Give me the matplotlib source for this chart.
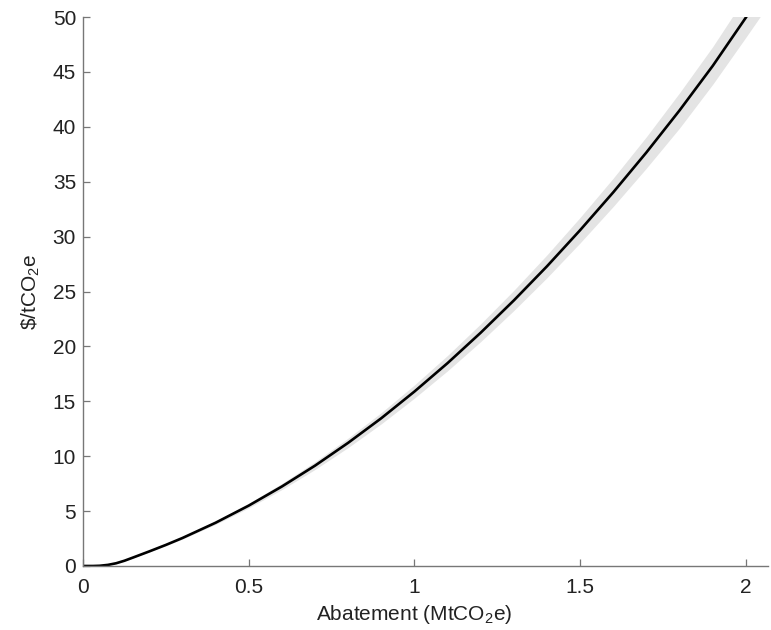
import numpy as np
import matplotlib as mpl
mpl.use('Agg')
import matplotlib.pyplot as plt


DPI = 100

# abatement (MtCO2e) and marginal cost ($/tCO2e)
ABATEMENT = [0.0, 0.03, 0.05, 0.075, 0.1, 0.125, 0.15, 0.2, 0.25, 0.3, 0.4,
             0.5, 0.6, 0.7, 0.8, 0.9, 1.0, 1.1, 1.2, 1.3, 1.4, 1.5, 1.6,
             1.7, 1.8, 1.9, 2.0, 2.07]
COST = [0.0, 0.0, 0.02, 0.10, 0.25, 0.48, 0.76, 1.33, 1.92, 2.55, 3.94,
        5.50, 7.24, 9.14, 11.22, 13.46, 15.89, 18.48, 21.25, 24.19, 27.30,
        30.59, 34.04, 37.67, 41.50, 45.55, 49.95, 53.2]
COST_LOW = [0.0, 0.0, 0.02, 0.09, 0.24, 0.46, 0.73, 1.28, 1.85, 2.45, 3.79,
            5.29, 6.96, 8.79, 10.79, 12.95, 15.29, 17.78, 20.44, 23.27,
            26.26, 29.43, 32.75, 36.24, 39.89, 43.87, 48.15, 51.2]
COST_HIGH = [0.0, 0.0, 0.02, 0.11, 0.26, 0.50, 0.79, 1.38, 1.99, 2.65,
             4.09, 5.71, 7.52, 9.49, 11.65, 13.97, 16.49, 19.18, 22.06,
             25.11, 28.34, 31.75, 35.33, 39.10, 43.10, 47.30, 51.9, 55.3]

X_TICKS = [0, 0.5, 1, 1.5, 2]
X_TICK_LABELS = ['0', '0.5', '1', '1.5', '2']
Y_TICKS = list(range(0, 55, 5))


def gen_figure(filename):
    mpl.rcParams.update({
        'font.family': ['Liberation Sans', 'DejaVu Sans'],
        'font.size': 15,
        'mathtext.fontset': 'custom',
        'mathtext.rm': 'Liberation Sans',
        'mathtext.it': 'Liberation Sans',
    })
    fig = plt.figure(figsize=(7.71, 6.3), dpi=DPI)
    ax = fig.add_axes([0.1077, 0.1016, 0.8885, 0.8714])

    ax.fill_between(ABATEMENT, COST_LOW, COST_HIGH, color='#e4e4e4', lw=0)
    ax.plot(ABATEMENT, COST, color='black', lw=1.9)

    ax.set_xlim(0, 2.067)
    ax.set_ylim(0, 50)
    ax.set_xticks(X_TICKS)
    ax.set_xticklabels(X_TICK_LABELS)
    ax.set_yticks(Y_TICKS)

    for side in ['top', 'right']:
        ax.spines[side].set_visible(False)
    for side in ['left', 'bottom']:
        ax.spines[side].set_color('#777777')
        ax.spines[side].set_linewidth(1.0)
    ax.tick_params(direction='in', length=5, width=0.9, color='#777777',
                   labelcolor='#222222')
    ax.tick_params(axis='x', pad=9)
    ax.tick_params(axis='y', pad=5)

    ax.set_xlabel('Abatement (MtCO$_2$e)', color='#222222')
    ax.xaxis.set_label_coords(0.483, -0.068)
    ax.set_ylabel(r'\$/tCO$_2$e', color='#222222')
    ax.yaxis.set_label_coords(-0.06, 0.5)

    fig.savefig(filename, dpi=DPI)


if __name__ == '__main__':
    gen_figure('out.png')
